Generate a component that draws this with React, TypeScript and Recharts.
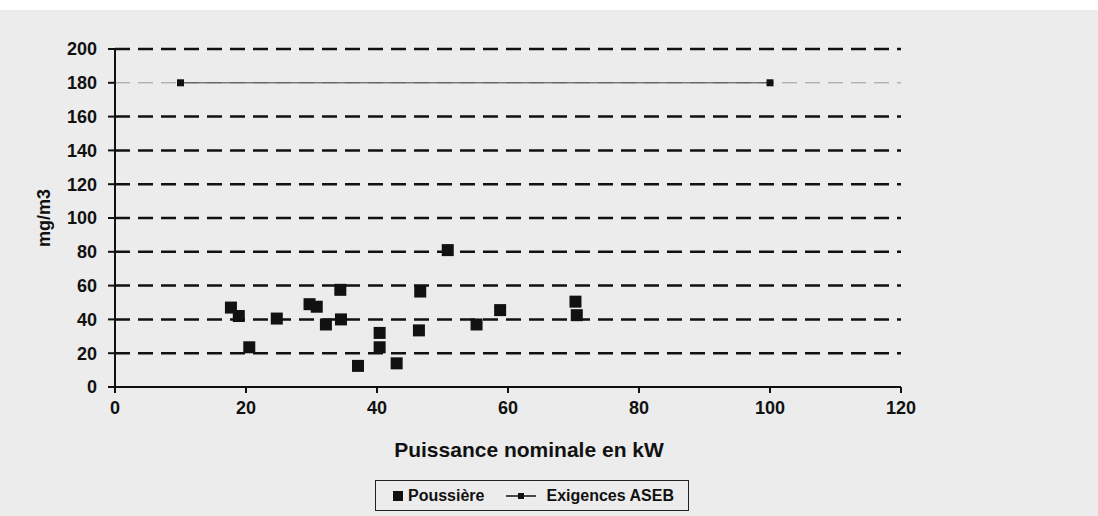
import React from "react";
import {
  Legend,
  ReferenceLine,
  Scatter,
  ScatterChart,
  XAxis,
  YAxis,
} from "recharts";

// puissance nominale (kW) / poussière (mg/m3)
const dustKw = [17.7, 18.9, 20.5, 24.7, 29.7, 30.8, 32.2, 34.4, 34.5, 37.1, 40.4, 40.4, 43, 46.4, 46.6, 50.8, 55.2, 58.8, 70.3, 70.5];
const dustMg = [47, 42, 23.5, 40.5, 49, 47.5, 37, 57.5, 40, 12.5, 32, 23.5, 14, 33.5, 56.5, 81, 37, 45.5, 50.5, 42.5];

const asebKw = [10, 100];
const asebMg = [180, 180];

const xTicks = [0, 20, 40, 60, 80, 100, 120];
const yTicks = [0, 20, 40, 60, 80, 100, 120, 140, 160, 180, 200];
const gridValues = [20, 40, 60, 80, 100, 120, 140, 160, 180, 200];

const dust = dustKw.map((x, i) => ({ x, y: dustMg[i] }));
const aseb = asebKw.map((x, i) => ({ x, y: asebMg[i] }));

const FONT = "'Liberation Sans', Arial, sans-serif";

const BigSquare = (p: any) => (
  <rect x={p.cx - 6} y={p.cy - 6} width={12} height={12} fill="#111" />
);
const SmallSquare = (p: any) => (
  <rect x={p.cx - 3.5} y={p.cy - 3.5} width={7} height={7} fill="#111" />
);

function LegendBox() {
  return (
    <div
      style={{
        boxSizing: "border-box",
        width: 314,
        height: 31,
        border: "1.5px solid #222",
        display: "flex",
        alignItems: "center",
        fontFamily: FONT,
        fontSize: 16,
        fontWeight: 700,
        color: "#111",
        paddingLeft: 17,
      }}
    >
      <span style={{ display: "inline-block", width: 10, height: 10, background: "#111", marginRight: 5 }} />
      <span>Poussière</span>
      <svg width={30} height={10} style={{ marginLeft: 22, marginRight: 10 }}>
        <line x1={0} y1={5} x2={30} y2={5} stroke="#111" strokeWidth={1.5} />
        <rect x={12} y={2} width={6} height={6} fill="#111" />
      </svg>
      <span>Exigences ASEB</span>
    </div>
  );
}

export default function App() {
  return (
    <div style={{ width: 1098, height: 516, background: "#ececec", position: "relative" }}>
      <style>{"body{margin:0}"}</style>
      <div style={{ position: "absolute", top: 0, left: 0, width: 1098, height: 10, background: "#fff" }} />
      <ScatterChart
        width={1098}
        height={516}
        margin={{ top: 49, right: 197, bottom: 99, left: 0 }}
      >
        {gridValues.map((v) => (
          <ReferenceLine
            key={v}
            y={v}
            stroke={v === 180 ? "#999" : "#111"}
            strokeWidth={v === 180 ? 1 : 2.5}
            strokeDasharray="15 8"
            ifOverflow="extendDomain"
          />
        ))}
        <XAxis
          type="number"
          dataKey="x"
          domain={[0, 120]}
          ticks={xTicks}
          height={30}
          stroke="#111"
          strokeWidth={2}
          tickSize={6}
          tickMargin={8}
          tick={{ fill: "#111", fontSize: 18, fontWeight: 700, fontFamily: FONT }}
          label={{
            value: "Puissance nominale en kW",
            position: "bottom",
            offset: 25,
            dx: 21,
            style: { fill: "#111", fontSize: 21, fontWeight: 700, fontFamily: FONT },
          }}
        />
        <YAxis
          type="number"
          dataKey="y"
          domain={[0, 200]}
          ticks={yTicks}
          width={115}
          stroke="#111"
          strokeWidth={2}
          tickSize={7}
          tickMargin={11}
          tick={{ fill: "#111", fontSize: 18, fontWeight: 700, fontFamily: FONT }}
          label={{
            value: "mg/m3",
            angle: -90,
            position: "insideLeft",
            offset: 44,
            dy: 0,
            style: { fill: "#111", fontSize: 18, fontWeight: 700, fontFamily: FONT, textAnchor: "middle" },
          }}
        />
        <Scatter
          name="Exigences ASEB"
          data={aseb}
          line={{ stroke: "#444", strokeWidth: 1 }}
          shape={SmallSquare}
          isAnimationActive={false}
        />
        <Scatter
          name="Poussière"
          data={dust}
          shape={BigSquare}
          isAnimationActive={false}
        />
        <Legend
          layout="horizontal"
          verticalAlign="middle"
          align="center"
          wrapperStyle={{ top: 480, left: 375, width: 314, height: 31 }}
          content={() => <LegendBox />}
        />
      </ScatterChart>
    </div>
  );
}
